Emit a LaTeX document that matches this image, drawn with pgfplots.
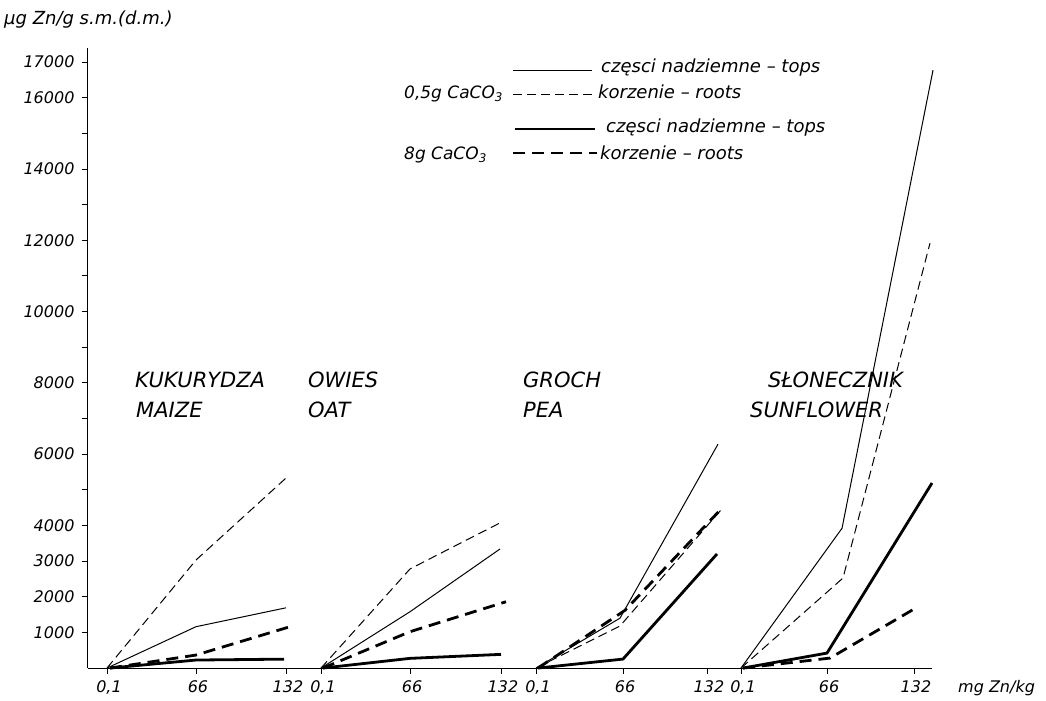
\documentclass[border=0pt]{standalone}
\usepackage{pgfplots}
\pgfplotsset{compat=1.18}
\usepackage{fontspec}
\setmainfont{DejaVu Sans}
\begin{document}
\begin{tikzpicture}
\begin{axis}[
  scale only axis, width=844pt, height=620pt,
  xmin=88, xmax=932, ymin=0, ymax=17390,
  axis x line=bottom, axis y line=left,
  axis line style={-, line width=1pt},
  clip=false, scaled y ticks=false,
  tick align=outside, major tick length=6pt,
  tick style={black, line width=0.8pt},
  /pgf/number format/assume math mode=true,
  ticklabel style={font=\itshape\fontsize{16}{19}\selectfont},
  yticklabel style={xshift=-4pt},
  xticklabel style={yshift=-3pt, xshift=2pt},
  xtick={107,196,286,321,410,501,536,623,707,741,827,914},
  xticklabels={{0,1},66,132,{0,1},66,132,{0,1},66,132,{0,1},66,132},
  ytick={1000,2000,...,17000},
  yticklabels={1000,2000,3000,4000,,6000,,8000,,10000,,12000,,14000,,16000,17000},
  thin05/.style={black, line width=1pt},
  dash05/.style={black, line width=1pt, dash pattern=on 9pt off 5pt},
  thick8/.style={black, line width=2.8pt},
  dash8/.style={black, line width=2.8pt, dash pattern=on 12pt off 7pt},
]
% maize
\addplot[thin05] coordinates {(107,0) (196,1160) (286,1690)};
\addplot[dash05] coordinates {(107,0) (196,3030) (286,5330)};
\addplot[thick8] coordinates {(110,0) (196,225) (284,250)};
\addplot[dash8] coordinates {(110,0) (196,365) (290,1160)};
% oat
\addplot[thin05] coordinates {(321,0) (410,1580) (500,3340)};
\addplot[dash05] coordinates {(321,0) (410,2780) (502,4100)};
\addplot[thick8] coordinates {(323,0) (410,272) (501,384)};
\addplot[dash8] coordinates {(323,0) (410,1020) (506,1860)};
% pea
\addplot[thin05] coordinates {(536,0) (620,1400) (718,6280)};
\addplot[dash05] coordinates {(536,0) (620,1180) (723,4500)};
\addplot[thick8] coordinates {(538,0) (623,252) (717,3200)};
\addplot[dash8] coordinates {(538,0) (625,1620) (723,4516)};
% sunflower
\addplot[thin05] coordinates {(741,0) (842,3920) (933,16770)};
\addplot[dash05] coordinates {(741,0) (843,2525) (930,11920)};
\addplot[thick8] coordinates {(743,0) (827,420) (932,5190)};
\addplot[dash8] coordinates {(743,0) (830,280) (914,1655)};

% page corners
\coordinate (BL) at (axis cs:0,-898);
\coordinate (TR) at (axis cs:1046,18738);
% axis titles
\node[anchor=west, inner sep=0pt, font=\itshape\fontsize{18}{21}\selectfont] at (axis cs:4,18176) {µg Zn/g s.m.(d.m.)};
\node[anchor=west, inner sep=0pt, font=\itshape\fontsize{16}{19}\selectfont] at (axis cs:958,-561) {mg Zn/kg};
% species
\begin{scope}[every node/.style={anchor=west, font=\itshape\fontsize{21}{25}\selectfont, inner sep=0pt}]
\node at (axis cs:135,8078) {KUKURYDZA};
\node at (axis cs:136,7237) {MAIZE};
\node at (axis cs:308,8078) {OWIES};
\node at (axis cs:308,7237) {OAT};
\node at (axis cs:523,8078) {GROCH};
\node at (axis cs:523,7237) {PEA};
\node at (axis cs:768,8078) {SŁONECZNIK};
\node at (axis cs:750,7237) {SUNFLOWER};
\end{scope}
% legend
\draw[line width=1pt] (axis cs:513,16774) -- (axis cs:592,16774);
\draw[line width=1pt, dash pattern=on 9pt off 5pt] (axis cs:513,16101) -- (axis cs:592,16101);
\draw[line width=2.8pt] (axis cs:515,15119) -- (axis cs:595,15119);
\draw[line width=2.8pt, dash pattern=on 12pt off 7pt] (axis cs:513,14446) -- (axis cs:597,14446);
\begin{scope}[every node/.style={anchor=west, font=\itshape\fontsize{18}{21}\selectfont, inner sep=0pt}]
\node at (axis cs:601,16830) {częsci nadziemne -- tops};
\node at (axis cs:598,16157) {korzenie -- roots};
\node at (axis cs:606,15147) {częsci nadziemne -- tops};
\node at (axis cs:600,14446) {korzenie -- roots};
\end{scope}
\begin{scope}[every node/.style={anchor=west, font=\itshape\fontsize{17}{20}\selectfont, inner sep=0pt}]
\node at (axis cs:404,16101) {0,5g CaCO\textsubscript{3}};
\node at (axis cs:404,14390) {8g CaCO\textsubscript{3}};
\end{scope}
\end{axis}
\pgfresetboundingbox
\path (BL) rectangle (TR);
\end{tikzpicture}
\end{document}
